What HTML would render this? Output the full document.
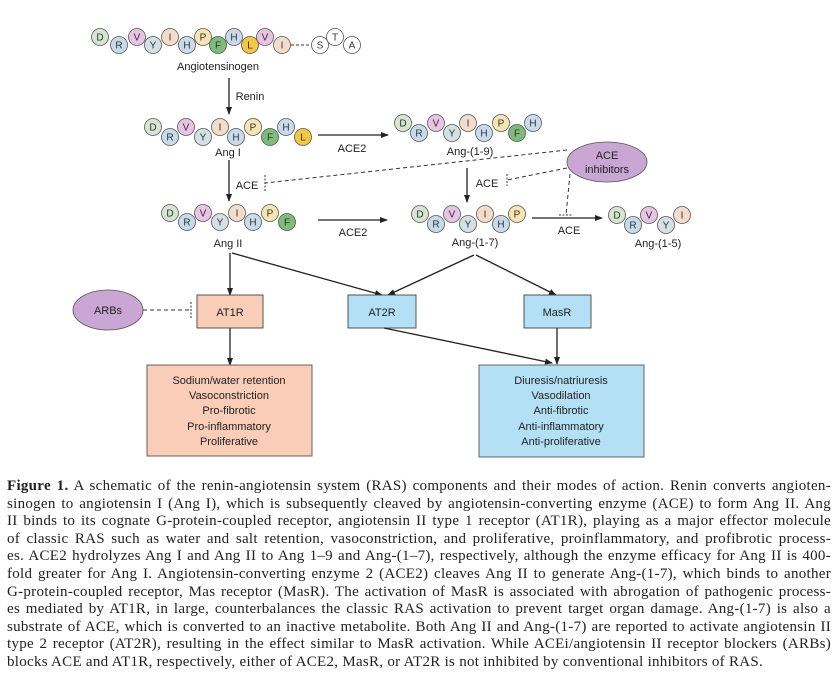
<!DOCTYPE html>
<html><head><meta charset="utf-8"><style>
html,body{margin:0;padding:0;background:#fff;width:837px;height:680px;overflow:hidden}
svg{position:absolute;left:0;top:0}
.cap{position:absolute;left:7px;top:478px;width:824px;font-family:"Liberation Serif",serif;font-size:15px;letter-spacing:0.28px;line-height:17.6px;color:#222}
.cap div{text-align:justify;text-align-last:justify;white-space:nowrap}
.cap div.l{text-align-last:left}
</style></head><body>
<svg width="837" height="480" viewBox="0 0 837 480" font-family="Liberation Sans, sans-serif">
<defs><marker id="a" markerWidth="8" markerHeight="8" refX="7" refY="4" orient="auto" markerUnits="userSpaceOnUse"><path d="M0,1 L8,4 L0,7 z" fill="#222"/></marker></defs>
<style>
circle{stroke:#555;stroke-width:0.8}
.c text{font-size:10px;text-anchor:middle;fill:#333}
.lb{font-size:11px;text-anchor:middle;fill:#222}
.D{fill:#d5e5cf}.R{fill:#c5dbe9}.V{fill:#e8c3e3}.Y{fill:#d5dfe6}.I{fill:#f3dcca}.H{fill:#c9dbea}.P{fill:#f6e4b3}.F{fill:#7dbd7a}.L{fill:#f4c646}.W{fill:#fff}
line{stroke:#222;stroke-width:1.3}
.d{stroke:#333;stroke-width:1;stroke-dasharray:4,3;fill:none}
</style>
<g class="c">
<circle class="D" cx="100" cy="37" r="8.5"/><text x="100" y="40.5">D</text>
<circle class="R" cx="119" cy="45" r="8.5"/><text x="119" y="48.5">R</text>
<circle class="V" cx="137" cy="37" r="8.5"/><text x="137" y="40.5">V</text>
<circle class="Y" cx="153" cy="45" r="8.5"/><text x="153" y="48.5">Y</text>
<circle class="I" cx="170" cy="37" r="8.5"/><text x="170" y="40.5">I</text>
<circle class="H" cx="187" cy="45" r="8.5"/><text x="187" y="48.5">H</text>
<circle class="P" cx="203" cy="37" r="8.5"/><text x="203" y="40.5">P</text>
<circle class="F" cx="218" cy="45" r="8.5"/><text x="218" y="48.5">F</text>
<circle class="H" cx="234" cy="37" r="8.5"/><text x="234" y="40.5">H</text>
<circle class="L" cx="250" cy="45" r="8.5"/><text x="250" y="48.5">L</text>
<circle class="V" cx="265" cy="37" r="8.5"/><text x="265" y="40.5">V</text>
<circle class="I" cx="282" cy="45" r="8.5"/><text x="282" y="48.5">I</text>
<path class="d" d="M291,45 H311" style="stroke-dasharray:3,2"/>
<circle class="W" cx="320" cy="45" r="8.5"/><text x="320" y="48.5">S</text>
<circle class="W" cx="335" cy="37" r="8.5"/><text x="335" y="40.5">T</text>
<circle class="W" cx="352" cy="45" r="8.5"/><text x="352" y="48.5">A</text>
</g>
<text class="lb" x="218" y="70" font-size="10">Angiotensinogen</text>
<line x1="229" y1="78" x2="229" y2="114" marker-end="url(#a)"/>
<text class="lb" x="250" y="100">Renin</text>
<g class="c">
<circle class="D" cx="153" cy="127" r="8.5"/><text x="153" y="130.5">D</text>
<circle class="R" cx="170" cy="137" r="8.5"/><text x="170" y="140.5">R</text>
<circle class="V" cx="186" cy="127" r="8.5"/><text x="186" y="130.5">V</text>
<circle class="Y" cx="203" cy="137" r="8.5"/><text x="203" y="140.5">Y</text>
<circle class="I" cx="220" cy="127" r="8.5"/><text x="220" y="130.5">I</text>
<circle class="H" cx="236" cy="137" r="8.5"/><text x="236" y="140.5">H</text>
<circle class="P" cx="253" cy="127" r="8.5"/><text x="253" y="130.5">P</text>
<circle class="F" cx="270" cy="137" r="8.5"/><text x="270" y="140.5">F</text>
<circle class="H" cx="286" cy="127" r="8.5"/><text x="286" y="130.5">H</text>
<circle class="L" cx="303" cy="137" r="8.5"/><text x="303" y="140.5">L</text>
</g>
<text class="lb" x="228" y="156">Ang I</text>
<line x1="318" y1="135" x2="388" y2="135" marker-end="url(#a)"/>
<text class="lb" x="352" y="152">ACE2</text>
<g class="c">
<circle class="D" cx="403" cy="123" r="8.5"/><text x="403" y="126.5">D</text>
<circle class="R" cx="419" cy="133" r="8.5"/><text x="419" y="136.5">R</text>
<circle class="V" cx="436" cy="123" r="8.5"/><text x="436" y="126.5">V</text>
<circle class="Y" cx="452" cy="133" r="8.5"/><text x="452" y="136.5">Y</text>
<circle class="I" cx="468" cy="123" r="8.5"/><text x="468" y="126.5">I</text>
<circle class="H" cx="484" cy="133" r="8.5"/><text x="484" y="136.5">H</text>
<circle class="P" cx="501" cy="123" r="8.5"/><text x="501" y="126.5">P</text>
<circle class="F" cx="517" cy="133" r="8.5"/><text x="517" y="136.5">F</text>
<circle class="H" cx="533" cy="123" r="8.5"/><text x="533" y="126.5">H</text>
</g>
<text class="lb" x="470" y="155">Ang-(1-9)</text>
<ellipse cx="607" cy="162" rx="40" ry="20" fill="#c9a6d4" stroke="#555" stroke-width="0.8"/>
<text class="lb" x="607" y="159" font-size="12">ACE</text>
<text class="lb" x="607" y="173" font-size="12">inhibitors</text>
<path class="d" d="M567,150 L265,183"/>
<path d="M265,175 V192" stroke="#333" stroke-dasharray="2,1.5"/>
<path class="d" d="M567,168 L507,180"/>
<path d="M507,174 V186" stroke="#333" stroke-dasharray="2,1.5"/>
<path class="d" d="M570,174 L566,215"/>
<path d="M559,215 H573" stroke="#333" stroke-dasharray="2,1.5"/>
<line x1="229" y1="160" x2="229" y2="201" marker-end="url(#a)"/>
<text class="lb" x="247" y="189">ACE</text>
<line x1="467" y1="168" x2="467" y2="202" marker-end="url(#a)"/>
<text class="lb" x="487" y="187">ACE</text>
<g class="c">
<circle class="D" cx="170" cy="213" r="8.5"/><text x="170" y="216.5">D</text>
<circle class="R" cx="187" cy="222" r="8.5"/><text x="187" y="225.5">R</text>
<circle class="V" cx="203" cy="213" r="8.5"/><text x="203" y="216.5">V</text>
<circle class="Y" cx="220" cy="222" r="8.5"/><text x="220" y="225.5">Y</text>
<circle class="I" cx="237" cy="213" r="8.5"/><text x="237" y="216.5">I</text>
<circle class="H" cx="253" cy="222" r="8.5"/><text x="253" y="225.5">H</text>
<circle class="P" cx="270" cy="213" r="8.5"/><text x="270" y="216.5">P</text>
<circle class="F" cx="287" cy="222" r="8.5"/><text x="287" y="225.5">F</text>
</g>
<text class="lb" x="228" y="247" font-size="10">Ang II</text>
<line x1="318" y1="220" x2="387" y2="220" marker-end="url(#a)"/>
<text class="lb" x="353" y="236">ACE2</text>
<g class="c">
<circle class="D" cx="420" cy="214" r="8.5"/><text x="420" y="217.5">D</text>
<circle class="R" cx="436" cy="224" r="8.5"/><text x="436" y="227.5">R</text>
<circle class="V" cx="452" cy="214" r="8.5"/><text x="452" y="217.5">V</text>
<circle class="Y" cx="468" cy="224" r="8.5"/><text x="468" y="227.5">Y</text>
<circle class="I" cx="485" cy="214" r="8.5"/><text x="485" y="217.5">I</text>
<circle class="H" cx="501" cy="224" r="8.5"/><text x="501" y="227.5">H</text>
<circle class="P" cx="517" cy="214" r="8.5"/><text x="517" y="217.5">P</text>
</g>
<text class="lb" x="475" y="246">Ang-(1-7)</text>
<line x1="532" y1="218" x2="602" y2="218" marker-end="url(#a)"/>
<text class="lb" x="569" y="234">ACE</text>
<g class="c">
<circle class="D" cx="617" cy="215" r="8.5"/><text x="617" y="218.5">D</text>
<circle class="R" cx="633" cy="225" r="8.5"/><text x="633" y="228.5">R</text>
<circle class="V" cx="649" cy="215" r="8.5"/><text x="649" y="218.5">V</text>
<circle class="Y" cx="666" cy="225" r="8.5"/><text x="666" y="228.5">Y</text>
<circle class="I" cx="682" cy="215" r="8.5"/><text x="682" y="218.5">I</text>
</g>
<text class="lb" x="658" y="247">Ang-(1-5)</text>
<line x1="230" y1="253" x2="230" y2="295" marker-end="url(#a)"/>
<line x1="232" y1="253" x2="382" y2="295" marker-end="url(#a)"/>
<line x1="474" y1="255" x2="388" y2="295" marker-end="url(#a)"/>
<line x1="476" y1="255" x2="556" y2="295" marker-end="url(#a)"/>
<rect x="197" y="295" width="66" height="33" fill="#f9cdb8" stroke="#444" stroke-width="0.9"/>
<text class="lb" x="230" y="316" font-size="12">AT1R</text>
<rect x="348" y="295" width="68" height="33" fill="#b3e0f5" stroke="#444" stroke-width="0.9"/>
<text class="lb" x="382" y="316" font-size="12">AT2R</text>
<rect x="524" y="295" width="67" height="33" fill="#b3e0f5" stroke="#444" stroke-width="0.9"/>
<text class="lb" x="557" y="316" font-size="12">MasR</text>
<ellipse cx="108" cy="310" rx="35" ry="20" fill="#c9a6d4" stroke="#555" stroke-width="0.8"/>
<text class="lb" x="108" y="314" font-size="12">ARBs</text>
<path class="d" d="M143,310 H191"/>
<path d="M191,302 V318" stroke="#333" stroke-dasharray="2,1.5"/>
<line x1="230" y1="328" x2="230" y2="365" marker-end="url(#a)"/>
<line x1="384" y1="328" x2="552" y2="363" marker-end="url(#a)"/>
<line x1="557" y1="328" x2="557" y2="364" marker-end="url(#a)"/>
<rect x="147" y="365" width="165" height="91" fill="#f9cdb8" stroke="#555" stroke-width="0.9"/>
<g class="lb" font-size="10.5">
<text x="229" y="384">Sodium/water retention</text>
<text x="229" y="399">Vasoconstriction</text>
<text x="229" y="414">Pro-fibrotic</text>
<text x="229" y="430">Pro-inflammatory</text>
<text x="229" y="445">Proliferative</text>
</g>
<rect x="479" y="365" width="165" height="92" fill="#b3e0f5" stroke="#555" stroke-width="0.9"/>
<g class="lb" font-size="10.5">
<text x="561" y="384">Diuresis/natriuresis</text>
<text x="561" y="399">Vasodilation</text>
<text x="561" y="414">Anti-fibrotic</text>
<text x="561" y="430">Anti-inflammatory</text>
<text x="561" y="445">Anti-proliferative</text>
</g>
</svg>
<div class="cap">
<div><b>Figure 1.</b> A schematic of the renin-angiotensin system (RAS) components and their modes of action. Renin converts angioten-</div>
<div>sinogen to angiotensin I (Ang I), which is subsequently cleaved by angiotensin-converting enzyme (ACE) to form Ang II. Ang</div>
<div>II binds to its cognate G-protein-coupled receptor, angiotensin II type 1 receptor (AT1R), playing as a major effector molecule</div>
<div>of classic RAS such as water and salt retention, vasoconstriction, and proliferative, proinflammatory, and profibrotic process-</div>
<div>es. ACE2 hydrolyzes Ang I and Ang II to Ang 1–9 and Ang-(1–7), respectively, although the enzyme efficacy for Ang II is 400-</div>
<div>fold greater for Ang I. Angiotensin-converting enzyme 2 (ACE2) cleaves Ang II to generate Ang-(1-7), which binds to another</div>
<div>G-protein-coupled receptor, Mas receptor (MasR). The activation of MasR is associated with abrogation of pathogenic process-</div>
<div>es mediated by AT1R, in large, counterbalances the classic RAS activation to prevent target organ damage. Ang-(1-7) is also a</div>
<div>substrate of ACE, which is converted to an inactive metabolite. Both Ang II and Ang-(1-7) are reported to activate angiotensin II</div>
<div>type 2 receptor (AT2R), resulting in the effect similar to MasR activation. While ACEi/angiotensin II receptor blockers (ARBs)</div>
<div class="l">blocks ACE and AT1R, respectively, either of ACE2, MasR, or AT2R is not inhibited by conventional inhibitors of RAS.</div>
</div>
</body></html>
